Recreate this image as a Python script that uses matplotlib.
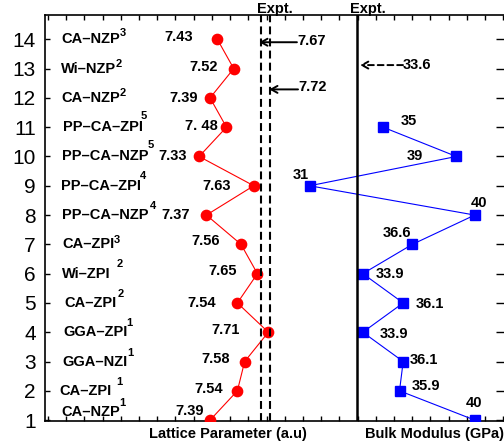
import matplotlib
matplotlib.use("Agg")
import matplotlib.pyplot as plt
from matplotlib.transforms import blended_transform_factory

plt.rcParams["font.family"] = ["Liberation Sans", "DejaVu Sans"]

# ---------------- data ----------------
positions = list(range(1, 15))
methods = ["CA–NZP", "CA–ZPI", "GGA–NZI", "GGA–ZPI", "CA–ZPI", "Wi–ZPI", "CA–ZPI",
           "PP–CA–NZP", "PP–CA–ZPI", "PP–CA–NZP", "PP–CA–ZPI", "CA–NZP", "Wi–NZP", "CA–NZP"]
refs = ["1", "1", "1", "1", "2", "2", "3", "4", "4", "5", "5", "2", "2", "3"]
lattice = [7.39, 7.54, 7.58, 7.71, 7.54, 7.65, 7.56, 7.37, 7.63, 7.33, 7.48, 7.39, 7.52, 7.43]
lattice_labels = ["7.39", "7.54", "7.58", "7.71", "7.54", "7.65", "7.56", "7.37", "7.63",
                  "7.33", "7. 48", "7.39", "7.52", "7.43"]
bulk_positions = list(range(1, 12))
bulk = [40, 35.9, 36.1, 33.9, 36.1, 33.9, 36.6, 40, 31, 39, 35]
bulk_labels = ["40", "35.9", "36.1", "33.9", "36.1", "33.9", "36.6", "40", "31", "39", "35"]
expt_lattice = [7.67, 7.72]
expt_bulk = 33.6
xlabel_lattice = "Lattice Parameter (a.u)"
xlabel_bulk = "Bulk Modulus (GPa)"

# ---------------- layout (pixel offsets) ----------------
lat_off = [(-20, 9), (-29, 2), (-29.5, 2.5), (-43, 2), (-36, 0), (-35, 3), (-35.5, 3),
           (-31, 0), (-37, 0), (-27, 0), (-25, 1), (-26.5, 0), (-30, 2), (-39, 2)]
bulk_off = [(-1, 17), (26.7, 4.5), (21, 2), (31, -1.6), (26.4, -1), (27.5, 0), (-15, 11),
            (4, 11.6), (-9, 11), (-41.6, 0), (25.4, 5.8)]
cat_x = [61, 59, 62, 63, 64, 62, 62, 62, 61, 62, 63, 61, 61, 61]
cat_dy = [8, 0, 0, 0, 0, 0, 0, 0, 0, 0, 0, 0, 0, 0]
sup_off = [(0, 9), (5, 9), (0, 8.5), (-1, 9), (1, 8.5), (5.7, 10), (0, 4.5), (1, 9),
           (-1, 9.5), (-1, 11), (-2, 11), (0, 4.5), (0, 5), (0, 6)]

W, H = 504, 446
fig = plt.figure(figsize=(W / 100, H / 100), dpi=100)
left_px, right_px, top_px, bot_px = 45, 505.5, 14.7, 420.7
rect = [left_px / W, 1 - bot_px / H, (right_px - left_px) / W, (bot_px - top_px) / H]
ax1 = fig.add_axes(rect)
ax2 = fig.add_axes(rect)
ax2.patch.set_visible(False)

ylim = (0.98, 14.84)
ax1.set_xlim(6.4835, 9.0125)
ax2.set_xlim(16.58, 41.676)
ax1.set_ylim(*ylim)
ax2.set_ylim(*ylim)

bold = dict(fontsize=10.5, fontweight="bold", color="black")

# lattice series
ax1.plot(lattice, positions, color="#ff0000", lw=0.8, marker="o", ms=7.4,
         mec="#ff0000", mfc="#ff0000", zorder=3)
for v, p, s, (dx, dy) in zip(lattice, positions, lattice_labels, lat_off):
    ax1.annotate(s, xy=(v, p), xytext=(dx, dy), textcoords="offset pixels",
                 ha="center", va="center", **bold)

for xv in expt_lattice:
    ax1.axvline(xv, color="black", lw=1.5, ls=(0, (3.8, 2.0)), zorder=4)

# bulk series
ax2.plot(bulk, bulk_positions, color="#0000ff", lw=0.8, marker="s", ms=6.6,
         mec="#0000ff", mfc="#0000ff", zorder=3)
for v, p, s, (dx, dy) in zip(bulk, bulk_positions, bulk_labels, bulk_off):
    ax2.annotate(s, xy=(v, p), xytext=(dx, dy), textcoords="offset pixels",
                 ha="center", va="center", **bold)
ax2.axvline(expt_bulk, color="black", lw=1.8, zorder=4)

# arrows to experimental values
ax1.annotate("", xy=(expt_lattice[0] - 0.01, 13.9), xytext=(7.867, 13.9),
             arrowprops=dict(arrowstyle="->,head_length=0.45,head_width=0.25",
                             color="black", lw=1.4, shrinkA=0, shrinkB=0))
ax1.annotate(f"{expt_lattice[0]:.2f}", xy=(7.867, 13.9), xytext=(0, 1.5),
             textcoords="offset pixels", ha="left", va="center", **bold)
ax1.annotate("", xy=(expt_lattice[1] - 0.005, 12.29), xytext=(7.873, 12.29),
             arrowprops=dict(arrowstyle="->,head_length=0.45,head_width=0.25",
                             color="black", lw=1.4, shrinkA=0, shrinkB=0))
ax1.annotate(f"{expt_lattice[1]:.2f}", xy=(7.873, 12.29), xytext=(0, 2),
             textcoords="offset pixels", ha="left", va="center", **bold)
ax2.annotate("", xy=(expt_bulk + 0.15, 13.12), xytext=(36.09, 13.12),
             arrowprops=dict(arrowstyle="->,head_length=0.45,head_width=0.25",
                             color="black", lw=1.4, ls=(0, (3, 2)), shrinkA=0, shrinkB=0))
ax2.annotate(f"{expt_bulk}", xy=(36.09, 13.12), xytext=(0, 0),
             textcoords="offset pixels", ha="left", va="center", **bold)

# "Expt." labels on top
ax1.annotate("Expt.", xy=(7.648, 1), xycoords=("data", "axes fraction"), xytext=(0, 2),
             textcoords="offset pixels", ha="left", va="baseline", annotation_clip=False, **bold)
ax2.annotate("Expt.", xy=(33.2, 1), xycoords=("data", "axes fraction"), xytext=(0, 2),
             textcoords="offset pixels", ha="left", va="baseline", annotation_clip=False, **bold)

# x labels
ax1.annotate(xlabel_lattice, xy=(7.486, 0), xycoords=("data", "axes fraction"),
             xytext=(0, -17.6), textcoords="offset pixels", ha="center", va="baseline",
             annotation_clip=False, **bold)
ax2.annotate(xlabel_bulk, xy=(37.82, 0), xycoords=("data", "axes fraction"),
             xytext=(0, -17.6), textcoords="offset pixels", ha="center", va="baseline",
             annotation_clip=False, **bold)

# category labels with superscripts
trans = blended_transform_factory(ax1.transAxes, ax1.transData)
for p, m, r, cx, cdy, (sdx, sdy) in zip(positions, methods, refs, cat_x, cat_dy, sup_off):
    t = ax1.annotate(m, xy=((cx - left_px) / (right_px - left_px), p), xycoords=trans,
                     xytext=(0, cdy), textcoords="offset pixels", ha="left", va="center",
                     **bold)
    ax1.annotate(r, xy=(1, 0.5), xycoords=t, xytext=(sdx, sdy), textcoords="offset pixels",
                 ha="left", va="center", fontsize=8, fontweight="bold", color="black")

# ticks
xt = [6.5 + 0.1 * i for i in range(26)]
ax1.set_xticks(xt)
ax1.set_xticklabels([])
ax1.set_yticks(positions)
ax1.set_yticklabels([str(p) for p in positions])
ax1.tick_params(axis="x", direction="in", length=3.6, width=1, top=True, bottom=True,
                labelbottom=False)
ax1.tick_params(axis="y", direction="in", length=3.6, width=1, left=True, right=False,
                labelsize=15, pad=6.5)
for s in ax1.spines.values():
    s.set_linewidth(1.2)

ax2.set_xticks([])
ax2.set_yticks(positions)
ax2.yaxis.tick_right()
ax2.tick_params(axis="y", direction="in", length=7.2, width=1, labelright=False)
for s in ax2.spines.values():
    s.set_visible(False)

fig.savefig("out.png", dpi=100)
